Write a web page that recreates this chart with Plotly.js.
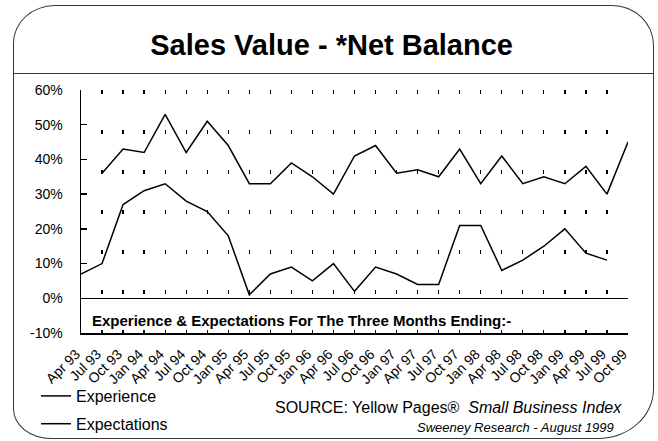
<!DOCTYPE html>
<html>
<head>
<meta charset="utf-8">
<script src="https://cdn.plot.ly/plotly-3.0.1.min.js"></script>
<style>
  html, body { margin: 0; padding: 0; background: #fff; }
  #wrap { position: relative; width: 658px; height: 441px; }
  #chart { position: absolute; left: 0; top: 0; width: 658px; height: 441px; }
  #frame {
    position: absolute; left: 13px; top: 5px; width: 641px; height: 434px;
    box-sizing: border-box; border: 1.6px solid #333; pointer-events: none;
    border-radius: 42px 42px 56px 38px / 38px 40px 50px 30px;
  }
  #rule { position: absolute; left: 13px; top: 73px; width: 641px; height: 0;
    border-top: 1.6px solid #333; pointer-events: none; }
</style>
</head>
<body>
<div id="wrap">
  <div id="chart"></div>
  <div id="frame"></div>
  <div id="rule"></div>
</div>
<script>
// ---- data ----
const categories = ["Apr 93","Jul 93","Oct 93","Jan 94","Apr 94","Jul 94","Oct 94",
  "Jan 95","Apr 95","Jul 95","Oct 95","Jan 96","Apr 96","Jul 96","Oct 96",
  "Jan 97","Apr 97","Jul 97","Oct 97","Jan 98","Apr 98","Jul 98","Oct 98",
  "Jan 99","Apr 99","Jul 99","Oct 99"];

const experience = [7, 10, 27, 31, 33, 28, 25, 18, 1, 7, 9, 5, 10, 2, 9, 7, 4, 4,
  21, 21, 8, 11, 15, 20, 13, 11, null];

const expectations = [null, 36, 43, 42, 53, 42, 51, 44, 33, 33, 39, 35, 30, 41, 44,
  36, 37, 35, 43, 33, 41, 33, 35, 33, 38, 30, 45];

const yTicks = [-10, 0, 10, 20, 30, 40, 50, 60];

const titleText = "Sales Value - *Net Balance";
const innerNote = "Experience &amp; Expectations For The Three Months Ending:-";
const sourceLine = "SOURCE: Yellow Pages®  <i>Small Business Index</i>";
const creditLine = "<i>Sweeney Research - August 1999</i>";

const FONT = "Arial, 'Liberation Sans', Helvetica, sans-serif";

const traces = [
  { x: categories, y: experience, name: "Experience", type: "scatter", mode: "lines",
    line: { color: "#000", width: 1.5 }, legendgroup: "a", connectgaps: false },
  { x: categories, y: expectations, name: "Expectations", type: "scatter", mode: "lines",
    line: { color: "#000", width: 1.5 }, legendgroup: "b", connectgaps: false }
];

const layout = {
  width: 658, height: 441,
  margin: { l: 81, r: 30, t: 90, b: 108, autoexpand: false },
  paper_bgcolor: "#fff", plot_bgcolor: "#fff",
  font: { family: FONT, color: "#000", size: 14 },
  title: { text: "<b>" + titleText + "</b>", font: { family: FONT, size: 29, color: "#000" },
    x: 0.504, xanchor: "center", y: 0.898, yanchor: "middle", yref: "container", xref: "container" },
  showlegend: true,
  legend: { xref: "container", yref: "container", x: 36 / 658, xanchor: "left",
    y: 1 - 379 / 441, yanchor: "top", orientation: "v",
    traceorder: "grouped", tracegroupgap: 4, bgcolor: "rgba(0,0,0,0)",
    font: { family: FONT, size: 16, color: "#000" } },
  xaxis: {
    type: "category", range: [0, categories.length - 1], automargin: false,
    showline: true, linecolor: "#000", linewidth: 1.5,
    ticks: "", tickangle: -45, ticklabelstandoff: 6, ticklabelshift: -5,
    tickfont: { family: FONT, size: 14, color: "#000" },
    showgrid: true, gridcolor: "#000", gridwidth: 1.3, griddash: "4px,36px",
    zeroline: false, fixedrange: true
  },
  yaxis: {
    range: [-10, 60], tickvals: yTicks, ticktext: yTicks.map(v => v + "%"), automargin: false,
    showline: true, linecolor: "#000", linewidth: 1.5,
    ticks: "inside", ticklen: 6, tickwidth: 1.5, tickcolor: "#000",
    ticklabelstandoff: 14,
    tickfont: { family: FONT, size: 14, color: "#000" },
    showgrid: false, zeroline: true, zerolinecolor: "#000", zerolinewidth: 1.5,
    fixedrange: true
  },
  annotations: [
    { xref: "paper", yref: "paper", x: 0.0165, y: 0.05, xanchor: "left", yanchor: "middle",
      text: "<b>" + innerNote + "</b>", showarrow: false,
      font: { family: FONT, size: 15, color: "#000" } },
    { xref: "paper", yref: "paper", x: (624 - 81) / 547, y: (333 - 407) / 243,
      xanchor: "right", yanchor: "middle", text: sourceLine, showarrow: false,
      font: { family: FONT, size: 16, color: "#000" } },
    { xref: "paper", yref: "paper", x: (616 - 81) / 547, y: (333 - 427) / 243,
      xanchor: "right", yanchor: "middle", text: creditLine, showarrow: false,
      font: { family: FONT, size: 13, color: "#000" } }
  ]
};

Plotly.newPlot("chart", traces, layout, { staticPlot: true, displayModeBar: false });
</script>
</body>
</html>
